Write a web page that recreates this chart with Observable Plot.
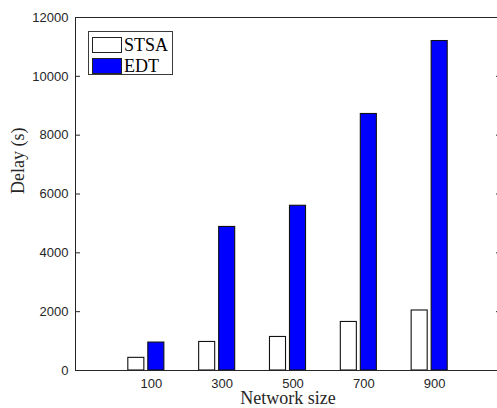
<!DOCTYPE html>
<html>
<head>
<meta charset="utf-8">
<script src="https://cdn.jsdelivr.net/npm/d3@7"></script>
<script src="https://cdn.jsdelivr.net/npm/@observablehq/plot@0.6"></script>
<style>
  html, body { margin: 0; padding: 0; background: #fff; }
  #wrap { position: relative; width: 497px; height: 408px; overflow: hidden; }
  #legend { position: absolute; left: 88px; top: 31px; width: 85px; height: 44px; border: 1px solid #3a3a3a; background: #fff; box-sizing: border-box; font-family: "Liberation Serif", "Times New Roman", serif; font-size: 18px; color: #000; }
  .row { position: absolute; left: 3px; height: 17px; display: flex; align-items: center; }
  .sw { width: 30px; height: 16px; box-sizing: border-box; border: 1px solid #222; margin-right: 2px; }
  .lab { line-height: 16px; }
</style>
</head>
<body>
<div id="wrap"></div>
<script>
const categories = [100, 300, 500, 700, 900];
const seriesNames = ["STSA", "EDT"];
const stsa = [430, 970, 1140, 1650, 2040];
const edt = [950, 4880, 5600, 8720, 11200];
const yTicks = [0, 2000, 4000, 6000, 8000, 10000, 12000];
const xLabel = "Network size";
const yLabel = "Delay (s)";
const colors = {STSA: "#ffffff", EDT: "#0000ff"};

const rows = categories.flatMap((c, i) => [
  {cat: c, series: "STSA", value: stsa[i]},
  {cat: c, series: "EDT", value: edt[i]}
]);

const ink = "#262626";
const sans = "'Liberation Sans', Arial, sans-serif";
const serif = "'Liberation Serif', 'Times New Roman', serif";

const chart = Plot.plot({
  width: 497,
  height: 408,
  marginLeft: 75,
  marginRight: -3,
  marginTop: 17,
  marginBottom: 38,
  style: {fontFamily: sans, fontSize: "13px", color: ink, background: "#fff", overflow: "visible"},
  x: {type: "band", domain: categories, paddingInner: 0.7736, paddingOuter: 0.8868, round: false},
  y: {domain: [0, 12000]},
  marks: [
    Plot.barY(rows.filter(d => d.series === "STSA"), {x: "cat", y: "value", fill: colors.STSA, stroke: "#111", strokeWidth: 1.1, dx: -10}),
    Plot.barY(rows.filter(d => d.series === "EDT"), {x: "cat", y: "value", fill: colors.EDT, stroke: "#111", strokeWidth: 1.1, dx: 10}),
    Plot.frame({stroke: ink, strokeWidth: 1}),
    Plot.axisY(yTicks, {anchor: "left", tickSize: -5, tickPadding: 12, tickFormat: d3.format("d"), label: null, stroke: ink, fill: ink, fontSize: 13}),
    Plot.axisY(yTicks, {anchor: "right", tickSize: -5, tickFormat: () => "", label: null, stroke: ink}),
    Plot.axisX(categories, {anchor: "bottom", tickSize: 0, tickPadding: 8, dx: 5, label: null, fill: ink, fontSize: 13}),
    Plot.text([yLabel], {text: d => d, frameAnchor: "left", rotate: -90, dx: -57, fontFamily: serif, fontSize: 18, fill: ink, lineAnchor: "middle"}),
    Plot.text([xLabel], {text: d => d, frameAnchor: "bottom", dy: 28, fontFamily: serif, fontSize: 18, fill: ink, lineAnchor: "middle"})
  ]
});

const wrap = document.getElementById("wrap");
wrap.appendChild(chart);

const legend = document.createElement("div");
legend.id = "legend";
seriesNames.forEach((name, i) => {
  const row = document.createElement("div");
  row.className = "row";
  row.style.top = (4 + i * 21) + "px";
  const sw = document.createElement("div");
  sw.className = "sw";
  sw.style.background = colors[name];
  const lab = document.createElement("span");
  lab.className = "lab";
  lab.textContent = name;
  row.appendChild(sw);
  row.appendChild(lab);
  legend.appendChild(row);
});
wrap.appendChild(legend);
</script>
</body>
</html>
